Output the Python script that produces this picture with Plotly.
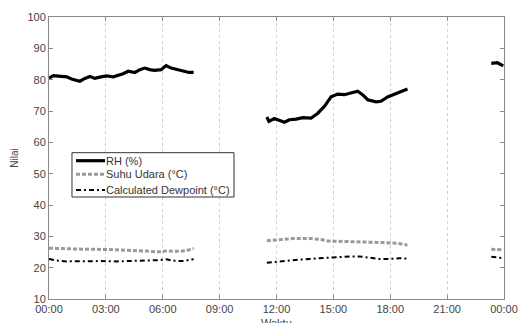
import plotly.graph_objects as go

# Time in hours since 00:00 (None = gap in recording)
rh_hours = [0.00, 0.23, 0.93, 1.19, 1.63, 1.89, 2.16, 2.42, 2.68, 3.04, 3.39, 3.65, 3.91, 4.18, 4.53, 4.79, 5.05, 5.31, 5.56, 5.91, 6.18, 6.44, 6.79, 7.05, 7.39, 7.63,
            None,
            11.49, 11.60, 11.89, 12.42, 12.68, 13.04, 13.39, 13.82, 14.18, 14.53, 14.88, 15.23, 15.58, 15.93, 16.28, 16.54, 16.81, 17.25, 17.51, 17.86, 18.30, 18.91,
            None,
            23.33, 23.65, 23.96]
rh_values = [80.5, 81.3, 80.9, 80.2, 79.5, 80.4, 81.0, 80.4, 80.8, 81.2, 80.9, 81.3, 81.9, 82.7, 82.3, 83.2, 83.7, 83.2, 83.0, 83.2, 84.5, 83.7, 83.2, 82.9, 82.3, 82.3,
             None,
             68.1, 66.7, 67.6, 66.4, 67.2, 67.4, 67.9, 67.7, 69.3, 71.5, 74.5, 75.4, 75.2, 75.7, 76.3, 75.2, 73.6, 72.9, 73.1, 74.5, 75.5, 77.0,
             None,
             85.2, 85.4, 84.4]

suhu_hours = [0.00, 0.93, 1.80, 3.21, 4.44, 5.14, 5.67, 6.18, 6.88, 7.23, 7.63,
              None,
              11.49, 11.98, 12.86, 13.74, 14.35, 14.70, 15.49, 16.37, 17.07, 17.77, 18.47, 18.91,
              None,
              23.33, 23.96]
suhu_values = [26.2, 26.0, 25.9, 25.8, 25.6, 25.3, 25.0, 25.3, 25.2, 25.4, 26.1,
               None,
               28.6, 28.9, 29.3, 29.3, 29.0, 28.5, 28.4, 28.4, 28.3, 28.0, 27.7, 27.2,
               None,
               25.9, 25.7]

dew_hours = [0.00, 0.40, 0.93, 1.80, 2.68, 3.56, 4.44, 5.14, 5.84, 6.18, 6.54, 7.05, 7.63,
             None,
             11.49, 12.16, 12.86, 13.74, 14.63, 15.16, 15.86, 16.37, 16.89, 17.42, 17.95, 18.47, 18.91,
             None,
             23.33, 23.96]
dew_values = [22.8, 22.3, 22.0, 22.1, 22.1, 22.0, 22.1, 22.2, 22.4, 22.7, 22.2, 22.1, 22.7,
              None,
              21.6, 22.1, 22.4, 22.8, 23.1, 23.5, 23.6, 23.6, 23.1, 22.8, 22.8, 23.0, 22.9,
              None,
              23.5, 23.0]

series_names = ["RH (%)", "Suhu Udara (°C)", "Calculated Dewpoint (°C)"]
x_title = "Waktu"
y_title = "Nilai"

x_tick_vals = [0, 3, 6, 9, 12, 15, 18, 21, 24]
x_tick_text = ["00:00", "03:00", "06:00", "09:00", "12:00", "15:00", "18:00", "21:00", "00:00"]
y_tick_vals = [10, 20, 30, 40, 50, 60, 70, 80, 90, 100]

styles = [
    dict(color="black", width=3.2, dash="solid"),
    dict(color="#999999", width=3, dash="4px,2px"),
    dict(color="black", width=2, dash="5px,3px,2px,3px"),
]

fig = go.Figure()
for name, xs, ys, st in zip(series_names,
                            [rh_hours, suhu_hours, dew_hours],
                            [rh_values, suhu_values, dew_values], styles):
    fig.add_trace(go.Scatter(x=xs, y=ys, mode="lines", name=name, showlegend=False,
                             line=st, connectgaps=False))

# Hand-drawn legend box (MATLAB-style compact legend)
fig.add_shape(type="rect", xref="paper", yref="paper",
              x0=0.0505, x1=0.4066, y0=0.3617, y1=0.5188,
              line=dict(color="#333333", width=1), fillcolor="white", layer="above")
legend_rows_y = [0.4904, 0.4422, 0.3865]
for name, st, yy in zip(series_names, styles, legend_rows_y):
    fig.add_shape(type="line", xref="paper", yref="paper",
                  x0=0.0593, x1=0.1231, y0=yy, y1=yy, line=st, layer="above")
    fig.add_annotation(xref="paper", yref="paper", x=0.1209, y=yy, text=name,
                       showarrow=False, xanchor="left", yanchor="middle",
                       font=dict(size=11, color="#333333"))

axis_color = "#8a8a8a"
text_color = "#444444"

# x-axis title placed just under the tick labels (partly cut at the bottom edge, as in the original)
fig.add_annotation(xref="paper", yref="paper", x=0.5, y=-0.056, text=x_title,
                   showarrow=False, xanchor="center", yanchor="top",
                   font=dict(size=11, color=text_color))

fig.update_layout(
    template="none",
    width=520, height=323,
    margin=dict(l=49, r=16, t=17, b=24),
    paper_bgcolor="white", plot_bgcolor="white",
    font=dict(family="Liberation Sans, Arial, sans-serif", size=11, color=text_color),
    showlegend=False,
    xaxis=dict(range=[0, 24], tickvals=x_tick_vals, ticktext=x_tick_text,
               tickfont=dict(size=11, color=text_color),
               showgrid=True, gridcolor="#d0d0d0", griddash="dot", gridwidth=1,
               zeroline=False, showline=True, linecolor=axis_color, linewidth=1, mirror="ticks",
               ticks="inside", ticklen=4, tickcolor=axis_color,
               automargin=False),
    yaxis=dict(range=[10, 100], tickvals=y_tick_vals,
               tickfont=dict(size=11, color=text_color),
               showgrid=False, zeroline=False, showline=True, linecolor=axis_color, linewidth=1, mirror="ticks",
               ticks="inside", ticklen=4, tickcolor=axis_color,
               title=dict(text=y_title, standoff=6, font=dict(size=10, color=text_color)),
               automargin=False),
)

fig.write_html("out.html", config={"displayModeBar": False},
               post_script="document.body.style.margin='0';")
